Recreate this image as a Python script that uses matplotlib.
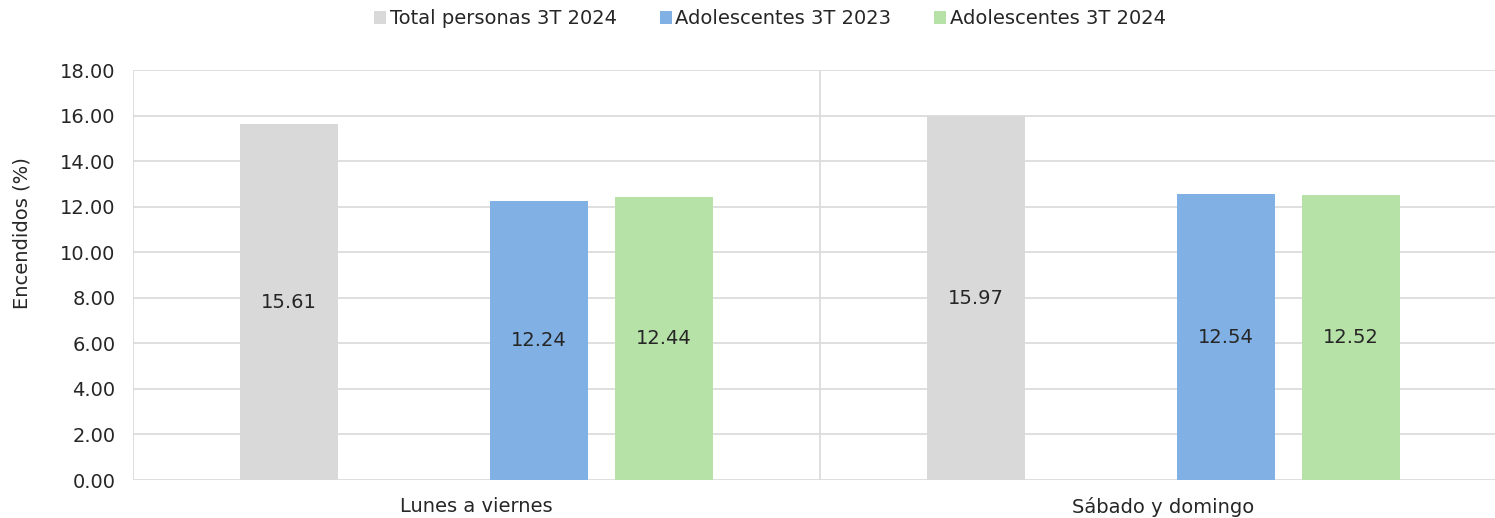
import matplotlib
matplotlib.use("Agg")
import matplotlib.pyplot as plt
import numpy as np

# Categories and series values (% of TV sets switched on)
categories = ["Lunes a viernes", "Sábado y domingo"]
series_names = ["Total personas 3T 2024", "Adolescentes 3T 2023", "Adolescentes 3T 2024"]
total_2024 = [15.61, 15.97]
adol_2023 = [12.24, 12.54]
adol_2024 = [12.44, 12.52]
y_ticks = [0, 2, 4, 6, 8, 10, 12, 14, 16, 18]

series_values = [total_2024, adol_2023, adol_2024]
colors = ["#D9D9D9", "#80B0E4", "#B6E2A8"]
# slot index of each series within a group of four slots (slot 1 is empty)
slots = [0, 2, 3]
n_slots = 4
slot_w = 0.182
bar_w = 0.1426

text_color = "#262626"
grid_color = "#D9D9D9"
fs = 14
plt.rcParams["font.family"] = ["DejaVu Sans"]

W, H = 1495, 518
fig = plt.figure(figsize=(W / 100, H / 100), dpi=100)
ax = fig.add_axes([133 / W, 1 - 480 / H, (1507 - 133) / W, (480 - 70) / H])

x = np.arange(len(categories))
for vals, col, slot, name in zip(series_values, colors, slots, series_names):
    offs = (slot - (n_slots - 1) / 2) * slot_w
    bars = ax.bar(x + offs, vals, width=bar_w, color=col, label=name, zorder=3)
    for b, v in zip(bars, vals):
        ax.text(b.get_x() + b.get_width() / 2, v / 2, f"{v:.2f}",
                ha="center", va="center", fontsize=fs, color=text_color, zorder=4)

ax.set_xlim(-0.5, len(categories) - 0.5)
ax.set_ylim(y_ticks[0], y_ticks[-1])
ax.set_yticks(y_ticks)
ax.set_yticklabels([f"{t:.2f}" for t in y_ticks])
ax.set_xticks(x)
ax.set_xticklabels(categories)

# horizontal gridlines and category boundaries
for t in y_ticks:
    ax.axhline(t, color=grid_color, lw=1.2, zorder=1)
for b in np.arange(-0.5, len(categories), 1.0):
    ax.axvline(b, color=grid_color, lw=1.2, zorder=1)

for s in ax.spines.values():
    s.set_visible(False)
ax.tick_params(axis="both", length=0, labelsize=fs, colors=text_color)
ax.tick_params(axis="y", pad=12.5)
ax.tick_params(axis="x", pad=12)
ax.set_ylabel("Encendidos (%)", fontsize=fs, color=text_color)
ax.yaxis.set_label_coords(31 / W, 1 - 233 / H, transform=fig.transFigure)

fig.legend(loc="center", bbox_to_anchor=(770 / W, 1 - 19 / H), ncol=3, frameon=False,
           fontsize=fs, handlelength=0.62, handleheight=0.62, handletextpad=0.2,
           columnspacing=2.2, labelcolor=text_color)

fig.savefig("out.png", dpi=100)
